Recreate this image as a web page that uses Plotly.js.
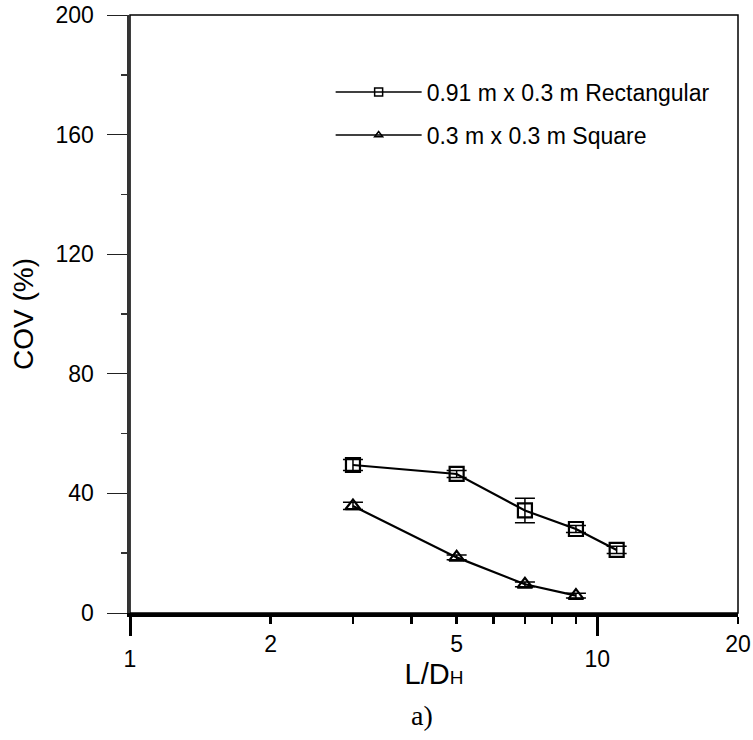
<!DOCTYPE html>
<html><head><meta charset="utf-8">
<script src="https://cdn.plot.ly/plotly-3.0.1.min.js"></script>
<style>html,body{margin:0;padding:0;background:#fff;}#chart{width:753px;height:740px;}</style>
</head><body><div id="chart"></div>
<script>
// Data
const rectLD = [3, 5, 7, 9, 11];
const rectCOV = [49.5, 46.5, 34.3, 28.1, 21.1];
const rectErr = [1.8, 1.2, 4.1, 1.2, 1.2];
const squareLD = [3, 5, 7, 9];
const squareCOV = [35.8, 18.6, 9.6, 5.8];
const squareErr = [1.2, 0.8, 0.8, 0.8];
const seriesNames = ['0.91 m x 0.3 m Rectangular', '0.3 m x 0.3 m Square'];
const xMinorTicks = [2, 3, 4, 5, 6, 7, 8, 9, 20];
const xMinorText = ['2', '', '', '5', '', '', '', '', '20'];
const xMajorTicks = [1, 10];
const xMajorText = ['1', '10'];
const yTicks = [0, 40, 80, 120, 160, 200];
const yMinorTicks = [20, 60, 100, 140, 180];
const xRange = [1, 20];
const yRange = [0, 200];

const SANS = 'Liberation Sans, Arial, sans-serif';

const errStyle = (arr) => ({type: 'data', array: arr, visible: true, color: '#000', thickness: 1.5, width: 10});

const traces = [
  {
    x: rectLD, y: rectCOV, mode: 'lines+markers', name: seriesNames[0], showlegend: false,
    line: {color: '#000', width: 2.2},
    marker: {symbol: 'square-open', size: 14, color: '#000', line: {width: 2.2, color: '#000'}},
    error_y: errStyle(rectErr)
  },
  {
    x: squareLD, y: squareCOV, mode: 'lines+markers', name: seriesNames[1], showlegend: false,
    line: {color: '#000', width: 2.2},
    marker: {symbol: 'triangle-up-open', size: 13, color: '#000', line: {width: 2.2, color: '#000'}},
    error_y: errStyle(squareErr)
  },
  // legend entries (no visible points)
  {
    x: [null], y: [null], mode: 'lines+markers', name: seriesNames[0], showlegend: true, legendgroup: 'a',
    line: {color: '#000', width: 1.5},
    marker: {symbol: 'square-open', size: 8, color: '#000', line: {width: 1.5, color: '#000'}}
  },
  {
    x: [null], y: [null], mode: 'lines+markers', name: seriesNames[1], showlegend: true, legendgroup: 'b',
    line: {color: '#000', width: 1.5},
    marker: {symbol: 'triangle-up-open', size: 7, color: '#000', line: {width: 1.5, color: '#000'}}
  },
  // anchor trace for the second x axis (major ticks)
  {x: [null], y: [null], xaxis: 'x2', showlegend: false, hoverinfo: 'skip', mode: 'markers'}
];

const logRange = [Math.log10(xRange[0]), Math.log10(xRange[1])];

const layout = {
  width: 753, height: 740,
  margin: {l: 130, r: 15, t: 15, b: 127, autoexpand: false},
  paper_bgcolor: '#fff', plot_bgcolor: '#fff',
  font: {family: SANS, color: '#000'},
  showlegend: true,
  legend: {
    x: 0.33, y: 0.907, xanchor: 'left', yanchor: 'top',
    bgcolor: 'rgba(0,0,0,0)', borderwidth: 0,
    itemwidth: 86, tracegroupgap: 10,
    font: {family: SANS, size: 23, color: '#000'}
  },
  xaxis: {
    type: 'log', range: logRange,
    tickvals: xMinorTicks, ticktext: xMinorText,
    ticks: 'outside', ticklen: 7, tickwidth: 2.5, tickcolor: '#000',
    showline: true, linecolor: '#000', linewidth: 4,
    showgrid: false, zeroline: false,
    tickfont: {family: SANS, size: 23, color: '#000'},
    ticklabelstandoff: 0,
    title: {text: 'L/D<span style="font-size:19px">H</span>', font: {family: SANS, size: 29, color: '#000'}, standoff: 9}
  },
  xaxis2: {
    type: 'log', range: logRange, overlaying: 'x', anchor: 'y', side: 'bottom',
    tickvals: xMajorTicks, ticktext: xMajorText,
    ticks: 'outside', ticklen: 22, tickwidth: 3, tickcolor: '#000',
    showline: false, showgrid: false, zeroline: false,
    tickfont: {family: SANS, size: 23, color: '#000'},
    ticklabelstandoff: 3
  },
  yaxis: {
    range: yRange, tickvals: yTicks,
    ticks: 'outside', ticklen: 20, tickwidth: 1, tickcolor: '#222',
    minor: {tickvals: yMinorTicks, ticks: 'outside', ticklen: 6, tickwidth: 1.5, tickcolor: '#333'},
    showline: true, linecolor: '#333', linewidth: 3.5,
    showgrid: false, zeroline: false,
    tickfont: {family: SANS, size: 23, color: '#000'},
    ticklabelstandoff: 8,
    title: {text: 'COV (%)', font: {family: SANS, size: 28, color: '#000'}, standoff: 14}
  },
  shapes: [
    {type: 'rect', xref: 'paper', yref: 'paper', x0: 0, x1: 1, y0: 0, y1: 1,
     line: {color: '#000', width: 1.5}, fillcolor: 'rgba(0,0,0,0)', layer: 'below'}
  ],
  annotations: [
    {text: 'a)', xref: 'paper', yref: 'paper', x: 0.48, y: -0.172, xanchor: 'center', yanchor: 'middle',
     showarrow: false, font: {family: 'Liberation Serif, Times New Roman, serif', size: 28, color: '#000'}}
  ]
};

Plotly.newPlot('chart', traces, layout, {displayModeBar: false, staticPlot: true});
</script>
</body></html>
